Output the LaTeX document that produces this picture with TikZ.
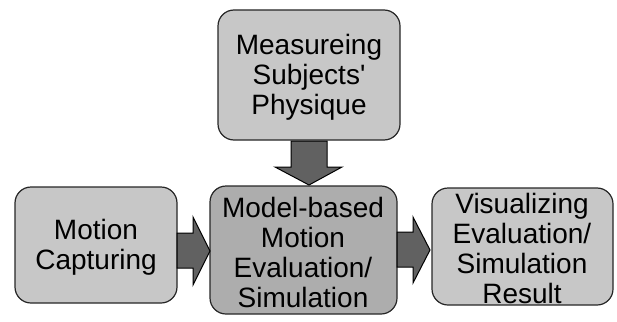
\documentclass[tikz,border=0pt]{standalone}
\usepackage{fontspec}
\setmainfont{Liberation Sans}
\begin{document}
\begin{tikzpicture}[x=1pt,y=-1pt,
  boxstyle/.style={draw=black!85, line width=1.2pt, rounded corners=16pt, fill=black!22},
  mainbox/.style={boxstyle, fill=black!32},
  label/.style={align=center, font=\fontsize{28}{30}\selectfont, inner sep=0pt},
  fatarrow/.style={draw=black, line width=1pt, fill=black!62, line join=miter}]
\useasboundingbox (0,0) rectangle (617,321);

% boxes
\draw[boxstyle] (218,10) rectangle (400,140);
\node[label] (measure) at (309,77) {Measureing\\Subjects\textquotesingle\\Physique};

\draw[boxstyle] (15,187) rectangle (177,303);
\node[label] (capture) at (96,247) {Motion\\Capturing};

\draw[mainbox] (210,186) rectangle (397,314);
\node[label] (model) at (303,252) {Model-based\\Motion\\Evaluation/\\Simulation};

\draw[boxstyle] (432,188) rectangle (613,305);
\node[label] (visual) at (522,248) {Visualizing\\Evaluation/\\Simulation\\Result};

% block arrows
\draw[fatarrow] (291,141) -- (327,141) -- (327,167) -- (342,167) -- (309,185)
  -- (275,167) -- (291,167) -- cycle;
\draw[fatarrow] (177,233) -- (193,233) -- (193,217) -- (210,251) -- (193,285)
  -- (193,268) -- (177,268) -- cycle;
\draw[fatarrow] (397,232) -- (413,232) -- (413,217) -- (430,250) -- (413,283)
  -- (413,267) -- (397,267) -- cycle;
\end{tikzpicture}
\end{document}
